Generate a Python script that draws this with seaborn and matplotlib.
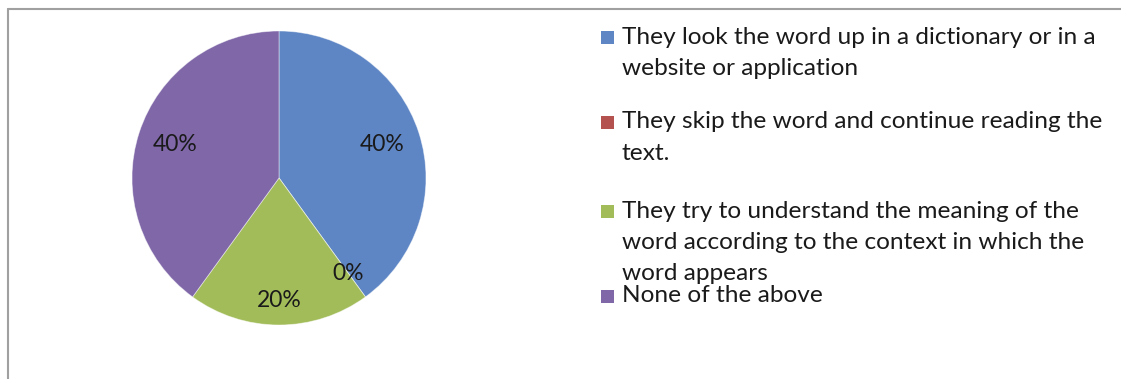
import matplotlib
matplotlib.use("Agg")
import matplotlib.pyplot as plt
import seaborn as sns
import numpy as np
from matplotlib.lines import Line2D
from matplotlib.patches import Rectangle

categories = [
    "They look the word up in a dictionary or in a website or application",
    "They skip the word and continue reading the text.",
    "They try to understand the meaning of the word according to the context in which the word appears",
    "None of the above",
]
legend_lines = [
    ["They look the word up in a dictionary or in a", "website or application"],
    ["They skip the word and continue reading the", "text."],
    ["They try to understand the meaning of the", "word according to the context in which the", "word appears"],
    ["None of the above"],
]
values = [40, 0, 20, 40]
pct_labels = ["40%", "0%", "20%", "40%"]
colors = ["#5E86C5", "#B4524F", "#A2BC5A", "#7F67A8"]

sns.set_theme(style="white")
plt.rcParams["font.family"] = ["Lato", "DejaVu Sans"]

W, H = 1121, 379
fig = plt.figure(figsize=(W / 100, H / 100), dpi=100)
fig.patch.set_facecolor("white")

# frame lines (top and left)
fig.add_artist(Line2D([8 / W, 1], [1 - 9 / H, 1 - 9 / H], transform=fig.transFigure, color="#A0A0A0", lw=1.5))
fig.add_artist(Line2D([8 / W, 8 / W], [1 - 9 / H, 0], transform=fig.transFigure, color="#A0A0A0", lw=1.5))

cx, cy, r = 279, 178, 147
ax = fig.add_axes([(cx - r) / W, (H - cy - r) / H, 2 * r / W, 2 * r / H])
wedges, _ = ax.pie(values, colors=colors, startangle=90, counterclock=False,
                   wedgeprops=dict(linewidth=0.6, edgecolor="#ffffff80"))
ax.set_xlim(-1, 1)
ax.set_ylim(-1, 1)
ax.set_aspect("equal")

label_r = [0.74, 0.80, 0.83, 0.74]
for w, lab, lr in zip(wedges, pct_labels, label_r):
    ang = np.deg2rad((w.theta1 + w.theta2) / 2)
    ax.text(lr * np.cos(ang), lr * np.sin(ang), lab, ha="center", va="center",
            fontsize=16.5, color="#1a1a1a")

# legend drawn manually
first_line_y = [37, 122, 211, 296]
line_h = 31.5
for lines, col, y0 in zip(legend_lines, colors, first_line_y):
    fig.add_artist(Rectangle((601 / W, 1 - (y0 + 7) / H), 13 / W, 13 / H,
                             transform=fig.transFigure, facecolor=col, edgecolor="none"))
    for i, t in enumerate(lines):
        fig.text(622 / W, 1 - (y0 + i * line_h) / H, t, ha="left", va="center",
                 fontsize=17.6, color="#1a1a1a")

fig.savefig("out.png", dpi=100)
